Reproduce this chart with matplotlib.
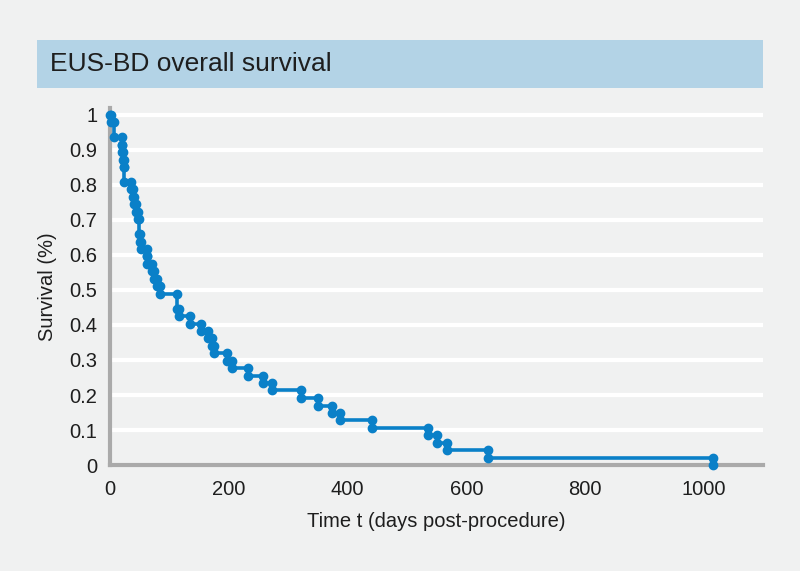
import numpy as np
import matplotlib.pyplot as plt
from matplotlib.patches import Rectangle

# --- data (Kaplan-Meier steps) ---
# time of each drop (days) and survival just after it
drop_times = [1, 7, 20, 21, 22, 23, 24, 35, 39, 41, 44, 47, 49, 51, 53,
              62, 63, 70, 74, 79, 84, 113, 117, 135, 154, 165, 172, 175,
              197, 205, 232, 258, 272, 321, 350, 374, 387, 441, 536, 550,
              567, 636, 1015]
surv_after = [0.979, 0.936, 0.915, 0.894, 0.872, 0.851, 0.809, 0.787, 0.766,
              0.745, 0.723, 0.702, 0.660, 0.638, 0.617, 0.596, 0.574, 0.553,
              0.532, 0.511, 0.489, 0.447, 0.426, 0.404, 0.383, 0.362, 0.340,
              0.319, 0.298, 0.277, 0.255, 0.234, 0.213, 0.191, 0.170, 0.149,
              0.128, 0.106, 0.085, 0.064, 0.043, 0.021, 0.0]

x_ticks = [0, 200, 400, 600, 800, 1000]
y_ticks = [0, 0.1, 0.2, 0.3, 0.4, 0.5, 0.6, 0.7, 0.8, 0.9, 1]
y_ticklabels = ["0", "0.1", "0.2", "0.3", "0.4", "0.5", "0.6", "0.7", "0.8", "0.9", "1"]

BG = "#f0f1f1"
BLUE = "#0a80c8"
TXT = "#1e1e1e"
plt.rcParams["font.family"] = ["Liberation Sans", "DejaVu Sans"]

fig = plt.figure(figsize=(8, 5.71), dpi=100, facecolor=BG)

# title band
fig.patches.append(Rectangle((0.046, 0.846), 0.9075, 0.084, transform=fig.transFigure,
                             facecolor="#b3d3e6", edgecolor="none"))
fig.text(0.063, 0.888, "EUS-BD overall survival", fontsize=19, color=TXT,
         va="center", ha="left")

ax = fig.add_axes([0.1375, 0.1856, 0.8165, 0.6254])
ax.set_facecolor(BG)

t = np.array([0] + drop_times)
s = np.array([1.0] + surv_after)
ax.step(t, s, where="post", color=BLUE, lw=2.6, zorder=5, clip_on=False)
# dots at top and bottom of every drop
ax.plot(t[1:], s[:-1], "o", color=BLUE, ms=6, zorder=6, clip_on=False)
ax.plot(t[1:], s[1:], "o", color=BLUE, ms=6, zorder=6, clip_on=False)
ax.plot([0], [1.0], "o", color=BLUE, ms=6, zorder=6, clip_on=False)

ax.set_xlim(0, 1100)
ax.set_ylim(0, 1.02)
ax.set_xticks(x_ticks)
ax.set_yticks(y_ticks)
ax.set_yticklabels(y_ticklabels)
ax.tick_params(length=0, labelsize=14.5, colors=TXT)
ax.tick_params(axis="x", pad=11)
ax.tick_params(axis="y", pad=9)
ax.yaxis.grid(True, color="white", lw=3)
ax.set_axisbelow(True)

for side in ["top", "right"]:
    ax.spines[side].set_visible(False)
for side in ["left", "bottom"]:
    ax.spines[side].set_color("#aaaaaa")
    ax.spines[side].set_linewidth(3)

ax.set_xlabel("Time t (days post-procedure)", fontsize=14.5, color=TXT, labelpad=9)
ax.set_ylabel("Survival (%)", fontsize=14.5, color=TXT, labelpad=9)

fig.savefig("out.png", dpi=100, facecolor=BG)
